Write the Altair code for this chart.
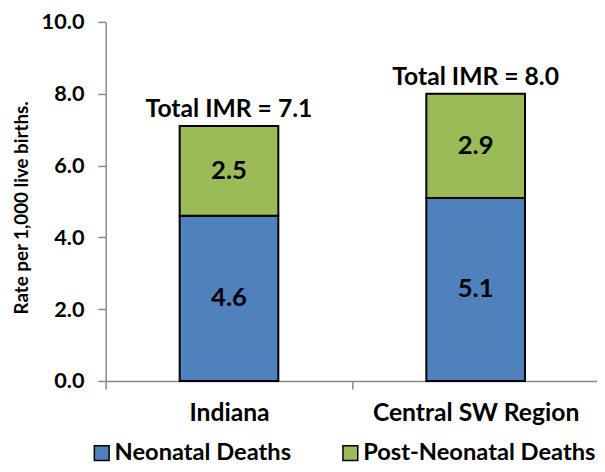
import altair as alt
import pandas as pd

regions = ["Indiana", "Central SW Region"]
series = ["Neonatal Deaths", "Post-Neonatal Deaths"]
neonatal = [4.6, 5.1]
post_neonatal = [2.5, 2.9]
colors = ["#4F81BD", "#9BBB59"]
y_ticks = [0, 2, 4, 6, 8, 10]

rows = []
for i, r in enumerate(regions):
    base = 0.0
    for s, vals in zip(series, [neonatal, post_neonatal]):
        v = vals[i]
        rows.append({"region": r, "series": s, "value": v, "order": series.index(s),
                     "mid": base + v / 2, "label": f"{v:.1f}"})
        base += v
df = pd.DataFrame(rows)
tot = pd.DataFrame({"region": regions,
                    "total": [a + b for a, b in zip(neonatal, post_neonatal)]})
tot["label"] = tot["total"].map(lambda t: f"Total IMR = {t:.1f}")

FONT = "Lato"

xscale = alt.Scale(paddingInner=0, paddingOuter=0, range=[0, 500])
x = alt.X("region:N", sort=regions, title=None, scale=xscale,
          axis=alt.Axis(labelAngle=0, labelFontSize=25, labelFont=FONT, labelFontWeight="bold",
                        labelColor="black", labelPadding=12, tickBand="extent", labelLimit=400,
                        domainColor="#888888", tickColor="#888888", tickSize=8, domainWidth=1.5,
                        tickWidth=1.5))

yscale = alt.Scale(domain=[0, 10], nice=False)

bars = alt.Chart(df).mark_bar(size=100, stroke="black", strokeWidth=2).encode(
    x=x,
    y=alt.Y("value:Q", stack="zero", scale=yscale,
            title="Rate per 1,000 live births.",
            axis=alt.Axis(values=y_ticks, format=".1f", grid=False,
                          labelFontSize=22, labelFont=FONT, labelFontWeight="bold",
                          labelColor="black", labelPadding=14,
                          titleFontSize=19, titleFont=FONT, titleFontWeight="bold",
                          titleColor="black", titlePadding=10, titleY=188,
                          domainColor="#888888", tickColor="#888888", tickSize=8,
                          domainWidth=1.5, tickWidth=1.5)),
    color=alt.Color("series:N", sort=series,
                    scale=alt.Scale(domain=series, range=colors),
                    legend=alt.Legend(title=None, orient="none", direction="horizontal",
                                      legendX=-16, legendY=425, symbolType="square",
                                      symbolSize=225, symbolStrokeColor="black",
                                      symbolStrokeWidth=1.5, labelFontSize=24,
                                      labelFont=FONT, labelFontWeight="bold",
                                      labelColor="black", columnPadding=47,
                                      labelOffset=1, labelLimit=400)),
    order=alt.Order("order:Q"),
)

vals = alt.Chart(df).mark_text(fontSize=26, font=FONT, fontWeight="bold", color="black").encode(
    x=alt.X("region:N", sort=regions, scale=xscale),
    y=alt.Y("mid:Q", scale=yscale),
    text="label:N",
)

totals = alt.Chart(tot).mark_text(fontSize=25, font=FONT, fontWeight="bold", color="black",
                                   baseline="bottom", dy=-4).encode(
    x=alt.X("region:N", sort=regions, scale=xscale),
    y=alt.Y("total:Q", scale=yscale),
    text="label:N",
)

chart = alt.layer(bars, vals, totals).properties(
    width=496, height=364,
    autosize=alt.AutoSizeParams(type="none"),
    padding={"left": 99, "top": 11, "right": 2, "bottom": 81},
).configure_view(stroke=None)

chart.save("out.html", embed_options={"renderer": "svg", "actions": False})
